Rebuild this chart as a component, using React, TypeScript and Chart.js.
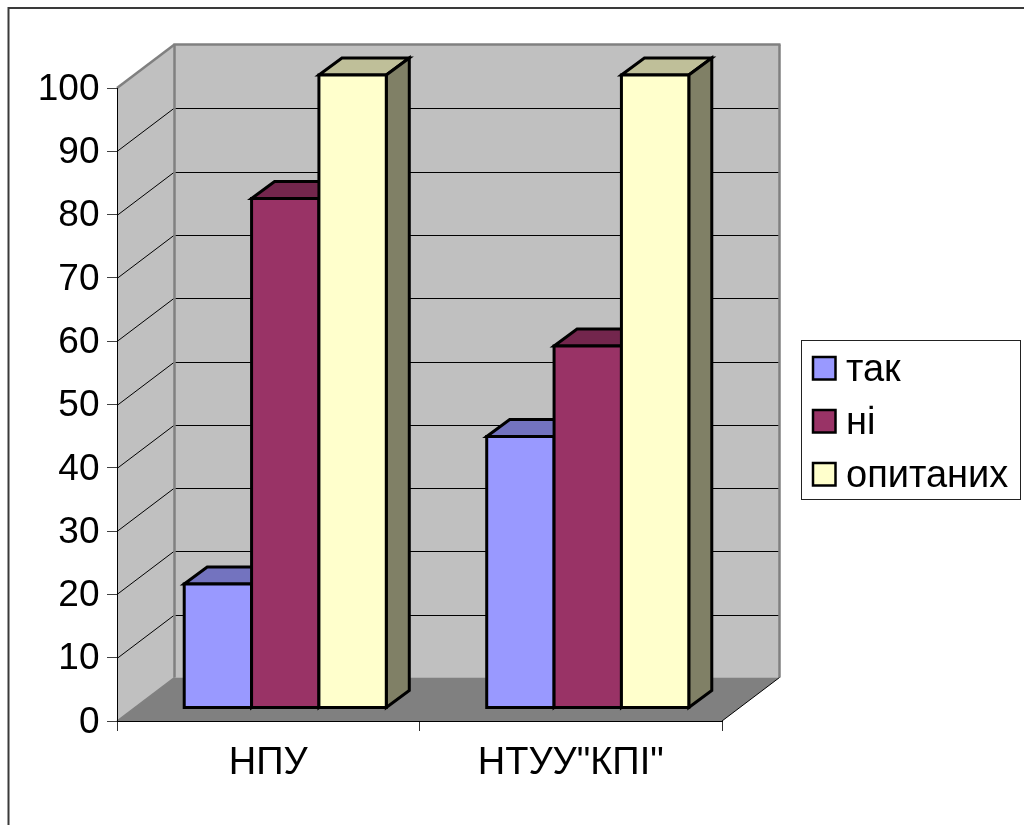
import React, { useEffect, useRef } from "react";
import { Chart, registerables } from "chart.js";

Chart.register(...registerables);

const categories = ["НПУ", 'НТУУ"КПІ"'];
const seriesNames = ["так", "ні", "опитаних"];
const takValues = [19.6, 42.9];
const niValues = [80.5, 57.2];
const surveyedValues = [100, 100];
const fillColors = ["#9999FF", "#993366", "#FFFFCC"];
const topColors = ["#7373BF", "#73264D", "#BFBF99"];
const sideColors = ["#4C4C80", "#4C1933", "#808066"];

const FONT = '"Liberation Sans", Arial, sans-serif';
const WALL_DX = 57.5;
const WALL_DY = -43.5;
const BAR_DX = 17;
const BAR_DY = -13;
const BAR_DEPTH_X = 23;
const BAR_DEPTH_Y = -17;

function poly(ctx: CanvasRenderingContext2D, pts: number[][], fill?: string, stroke?: string, lw = 1) {
  ctx.beginPath();
  pts.forEach((p, i) => (i ? ctx.lineTo(p[0], p[1]) : ctx.moveTo(p[0], p[1])));
  ctx.closePath();
  if (fill) {
    ctx.fillStyle = fill;
    ctx.fill();
  }
  if (stroke) {
    ctx.strokeStyle = stroke;
    ctx.lineWidth = lw;
    ctx.lineJoin = "miter";
    ctx.stroke();
  }
}

function seg(ctx: CanvasRenderingContext2D, x1: number, y1: number, x2: number, y2: number, color: string, lw: number) {
  ctx.beginPath();
  ctx.moveTo(x1, y1);
  ctx.lineTo(x2, y2);
  ctx.strokeStyle = color;
  ctx.lineWidth = lw;
  ctx.stroke();
}

const scenePlugin = {
  id: "scene3d",
  beforeDraw(chart: any) {
    const { ctx, chartArea: a, scales } = chart;
    const y = scales.y;
    const L = a.left;
    const R = a.right;
    const T = a.top;
    const B = a.bottom;
    const dx = WALL_DX;
    const dy = WALL_DY;
    ctx.save();
    ctx.fillStyle = "#FFFFFF";
    ctx.fillRect(0, 0, chart.width, chart.height);
    // outer frame
    ctx.strokeStyle = "#3A3A3A";
    ctx.lineWidth = 2;
    ctx.strokeRect(8.5, 8, chart.width + 20, chart.height + 20);
    // walls
    poly(ctx, [[L, B], [L, T], [L + dx, T + dy], [L + dx, B + dy]], "#C0C0C0");
    poly(ctx, [[L + dx, T + dy], [R + dx, T + dy], [R + dx, B + dy], [L + dx, B + dy]], "#C0C0C0");
    // floor
    poly(ctx, [[L, B], [L + dx, B + dy], [R + dx, B + dy], [R, B]], "#808080");
    // grid
    for (const tick of y.ticks) {
      if (tick.value <= 0 || tick.value >= 100) continue;
      const py = Math.round(y.getPixelForValue(tick.value)) + 0.5;
      seg(ctx, L, py, L + dx, py + dy, "#000000", 1);
      seg(ctx, L + dx, Math.round(py + dy) + 0.5, R + dx, Math.round(py + dy) + 0.5, "#000000", 1);
    }
    // wall edges
    seg(ctx, L, T, L + dx, T + dy, "#808080", 2.5);
    seg(ctx, L + dx - 1, T + dy, R + dx + 1, T + dy, "#808080", 2.5);
    seg(ctx, L + dx, T + dy, L + dx, B + dy, "#808080", 2.5);
    seg(ctx, R + dx, T + dy, R + dx, B + dy, "#808080", 2.5);
    seg(ctx, L, B, L + dx, B + dy, "#808080", 1.5);
    seg(ctx, R, B, R + dx, B + dy, "#000000", 1);
    ctx.restore();
  },
  beforeDatasetsDraw(chart: any) {
    const { ctx } = chart;
    ctx.save();
    ctx.translate(BAR_DX, BAR_DY);
    const n = chart.data.datasets.length;
    for (let d = 0; d < n; d++) {
      const meta = chart.getDatasetMeta(d);
      for (const bar of meta.data) {
        const x0 = bar.x - bar.width / 2;
        const x1 = bar.x + bar.width / 2;
        const top = bar.y;
        const base = bar.base;
        const ex = BAR_DEPTH_X;
        const ey = BAR_DEPTH_Y;
        poly(ctx, [[x0, top], [x0 + ex, top + ey], [x1 + ex, top + ey], [x1, top]], topColors[d], "#000000", 3);
        poly(ctx, [[x1, top], [x1 + ex, top + ey], [x1 + ex, base + ey], [x1, base]], sideColors[d], "#000000", 3);
        poly(ctx, [[x0, top], [x1, top], [x1, base], [x0, base]], fillColors[d], "#000000", 3);
      }
    }
    ctx.restore();
  },
  beforeDatasetDraw() {
    return false;
  },
  afterDraw(chart: any) {
    const { ctx } = chart;
    ctx.save();
    ctx.strokeStyle = "#222222";
    ctx.lineWidth = 1;
    ctx.fillStyle = "#FFFFFF";
    ctx.fillRect(801.5, 340.5, 219, 159);
    ctx.strokeRect(801.5, 340.5, 219, 159);
    ctx.font = `38px ${FONT}`;
    ctx.textBaseline = "alphabetic";
    ctx.textAlign = "left";
    chart.data.datasets.forEach((ds: any, i: number) => {
      const my = 357 + i * 53;
      ctx.fillStyle = ds.backgroundColor;
      ctx.fillRect(813, my, 22.5, 22.5);
      ctx.strokeStyle = "#000000";
      ctx.lineWidth = 2.5;
      ctx.strokeRect(813, my, 22.5, 22.5);
      ctx.fillStyle = "#000000";
      ctx.fillText(ds.label, 846, my + 24);
    });
    ctx.restore();
  },
};

export default function App() {
  const ref = useRef<HTMLCanvasElement>(null);
  useEffect(() => {
    const seriesValues = [takValues, niValues, surveyedValues];
    const chart = new Chart(ref.current!, {
      type: "bar",
      data: {
        labels: categories,
        datasets: seriesNames.map((label, i) => ({
          label,
          data: seriesValues[i],
          backgroundColor: fillColors[i],
          borderColor: "#000000",
          borderWidth: 2,
          barPercentage: 1,
          categoryPercentage: 0.668,
        })),
      },
      options: {
        responsive: false,
        animation: false,
        devicePixelRatio: 1,
        events: [],
        layout: { padding: { left: 0, right: 302, top: 88, bottom: 0 } },
        plugins: { legend: { display: false }, title: { display: false }, tooltip: { enabled: false } },
        scales: {
          x: {
            afterFit(s: any) {
              s.height = 104;
            },
            border: { color: "#000000", width: 1 },
            grid: { drawOnChartArea: false, drawTicks: true, tickLength: 10, color: "#303030", offset: true },
            ticks: { color: "#000000", font: { family: FONT, size: 38 }, padding: 10, maxRotation: 0, autoSkip: false },
          },
          y: {
            min: 0,
            max: 100,
            afterFit(s: any) {
              s.width = 117;
            },
            border: { color: "#000000", width: 1 },
            grid: { drawOnChartArea: false, drawTicks: true, tickLength: 10, color: "#404040" },
            ticks: { stepSize: 10, color: "#000000", font: { family: FONT, size: 37 }, padding: 7.5, labelOffset: 1.5 },
          },
        },
      },
      plugins: [scenePlugin],
    } as any);
    return () => chart.destroy();
  }, []);
  return (
    <canvas
      ref={ref}
      width={1024}
      height={825}
      style={{ position: "absolute", left: 0, top: 0, display: "block" }}
    />
  );
}
